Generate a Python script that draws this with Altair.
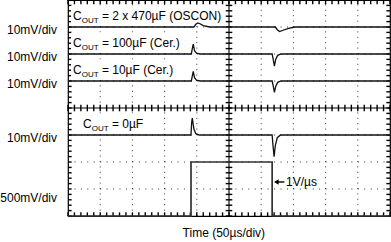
import altair as alt
import pandas as pd

# ---- trace data (x in horizontal divisions 0..10, y in vertical divisions 0..8) ----
oscon_x = [0, 3.91, 3.97, 4.03, 4.10, 4.20, 4.40, 6.44, 6.50, 6.57, 6.68, 6.85, 7.05, 10]
oscon_y = [7.0, 7.0, 7.10, 7.15, 7.12, 7.05, 7.0, 7.0, 6.90, 6.83, 6.88, 6.95, 7.0, 7.0]

cer100_x = [0, 3.83, 3.86, 3.89, 3.93, 3.99, 4.10, 6.34, 6.37, 6.41, 6.45, 6.51, 6.62, 10]
cer100_y = [6.0, 6.0, 6.20, 6.37, 6.12, 6.03, 6.0, 6.0, 5.82, 5.55, 5.80, 5.95, 6.0, 6.0]

cer10_x = [0, 3.83, 3.86, 3.89, 3.93, 3.99, 4.10, 6.34, 6.37, 6.41, 6.45, 6.51, 6.62, 10]
cer10_y = [5.0, 5.0, 5.18, 5.36, 5.12, 5.03, 5.0, 5.0, 4.84, 4.58, 4.80, 4.95, 5.0, 5.0]

zero_x = [0, 3.82, 3.84, 3.86, 3.91, 3.97, 4.08, 6.34, 6.36, 6.40, 6.44, 6.50, 6.60, 10]
zero_y = [3.0, 3.0, 3.45, 3.63, 3.22, 3.05, 3.0, 3.0, 2.70, 2.20, 2.62, 2.90, 3.0, 3.0]

step_x = [0, 3.82, 3.82, 6.34, 6.34, 10]
step_y = [0, 0, 2.0, 2.0, 0, 0]

# ---- annotation text ----
label_values = ["= 2 x 470µF (OSCON)", "= 100µF (Cer.)", "= 10µF (Cer.)", "= 0µF"]
label_x = [0.155, 0.155, 0.155, 0.466]
label_y = [7.25, 6.25, 5.25, 3.25]
box_x2 = [4.88, 3.57, 3.36, 2.40]

scale_labels = ["10mV/div", "10mV/div", "10mV/div", "10mV/div", "500mV/div"]
scale_label_y = [6.89, 5.89, 4.89, 2.89, 0.67]

time_title = "Time (50µs/div)"
slew_label = "1V/µs"

FONT = "Liberation Sans, Arial, Helvetica, sans-serif"

X = alt.Scale(domain=[0, 10], nice=False, zero=False)
Y = alt.Scale(domain=[0, 8], nice=False, zero=False)

def xe(field="x"):
    return alt.X(f"{field}:Q", scale=X, axis=None)

def ye(field="y"):
    return alt.Y(f"{field}:Q", scale=Y, axis=None)

# ---- traces ----
rows = []
for name, xs, ys in [("oscon", oscon_x, oscon_y), ("c100", cer100_x, cer100_y),
                     ("c10", cer10_x, cer10_y), ("c0", zero_x, zero_y)]:
    for i, (a, b) in enumerate(zip(xs, ys)):
        rows.append({"s": name, "x": a, "y": b, "i": i})
traces_df = pd.DataFrame(rows)
step_df = pd.DataFrame({"x": step_x, "y": step_y, "i": list(range(len(step_x)))})

# ---- grid structure ----
vgrid = pd.DataFrame({"x": [1, 2, 3, 4, 6, 7, 8, 9], "y": 0, "y2": 8})
hgrid = pd.DataFrame({"y": [1, 2, 3, 5, 6, 7], "x": 0, "x2": 10})
minor_x = [round(i * 0.2, 3) for i in range(51)]
minor_y = [round(i * 0.2, 3) for i in range(41)]

vg = alt.Chart(vgrid).mark_rule(color="#333", strokeWidth=1, strokeDash=[1, 4.4]).encode(
    x=xe(), y=ye(), y2="y2:Q")
hg = alt.Chart(hgrid).mark_rule(color="#333", strokeWidth=1, strokeDash=[1, 5.44]).encode(
    y=ye(), x=xe(), x2="x2:Q")

cv = alt.Chart(pd.DataFrame({"x": [5], "y": [0], "y2": [8]})).mark_rule(
    color="black", strokeWidth=1.1).encode(x=xe(), y=ye(), y2="y2:Q")
ch = alt.Chart(pd.DataFrame({"y": [4], "x": [0], "x2": [10]})).mark_rule(
    color="black", strokeWidth=1.1).encode(y=ye(), x=xe(), x2="x2:Q")

# tick segments (lengths in division units: 27 px per vertical div, 32.2 px per horizontal div)
TY = 3.3 / 27
TX = 3.3 / 32.2
seg = []
for xv in minor_x:
    seg.append({"x": xv, "x2": xv, "y": 4 - TY, "y2": 4 + TY})      # centre horizontal line
    seg.append({"x": xv, "x2": xv, "y": 8 - 1.3 * TY, "y2": 8})     # top edge
    seg.append({"x": xv, "x2": xv, "y": 0, "y2": 1.1 * TY})         # bottom edge
for yv in minor_y:
    seg.append({"x": 5 - TX, "x2": 5 + TX, "y": yv, "y2": yv})      # centre vertical line
    seg.append({"x": 0, "x2": 1.1 * TX, "y": yv, "y2": yv})         # left edge
    seg.append({"x": 10 - 1.1 * TX, "x2": 10, "y": yv, "y2": yv})   # right edge
seg_df = pd.DataFrame(seg)
ticks = alt.Chart(seg_df).mark_rule(color="black", strokeWidth=1.4).encode(
    x=xe(), x2="x2:Q", y=ye(), y2="y2:Q")

# ---- label boxes ----
lab_df = pd.DataFrame({"v": label_values, "x": label_x, "y": label_y, "x2": box_x2})
lab_df["bx"] = lab_df["x"] - 0.06
lab_df["by"] = lab_df["y"] - 0.17
lab_df["by2"] = lab_df["y"] + 0.55
boxes = alt.Chart(lab_df).mark_rect(color="white").encode(
    x=xe("bx"), x2="x2:Q", y=ye("by"), y2="by2:Q")

# ---- traces ----
tr = alt.Chart(traces_df).mark_line(color="#111", strokeWidth=1.3).encode(
    x=xe(), y=ye(), detail="s:N", order="i:Q")
st = alt.Chart(step_df).mark_line(color="#333", strokeWidth=1.7).encode(
    x=xe(), y=ye(), order="i:Q")

# ---- texts ----
tC = alt.Chart(lab_df).mark_text(text="C", align="left", baseline="alphabetic", fontSize=12,
                                  font=FONT, color="black").encode(x=xe(), y=ye())
tOUT = alt.Chart(lab_df).mark_text(text="OUT", align="left", baseline="alphabetic", fontSize=8,
                                    font=FONT, color="black", dx=8.7, dy=3).encode(x=xe(), y=ye())
tRest = alt.Chart(lab_df).mark_text(align="left", baseline="alphabetic", fontSize=12,
                                     font=FONT, color="black", dx=28.9).encode(
    x=xe(), y=ye(), text="v:N")

sl_df = pd.DataFrame({"t": scale_labels, "y": scale_label_y, "x": [0] * len(scale_labels)})
tScale = alt.Chart(sl_df).mark_text(align="right", baseline="middle", fontSize=12, font=FONT,
                                     color="black", dx=-11).encode(
    x=xe(), y=ye(), text="t:N")

tTime = alt.Chart(pd.DataFrame({"t": [time_title], "x": [4.84], "y": [0]})).mark_text(
    align="center", baseline="middle", fontSize=12, font=FONT, color="black", dy=17).encode(
    x=xe(), y=ye(), text="t:N")

arrow_shaft = alt.Chart(pd.DataFrame({"x": [6.46], "x2": [6.72], "y": [1.26]})).mark_rule(
    color="black", strokeWidth=1.4).encode(x=xe(), x2="x2:Q", y=ye())
arrow_head = alt.Chart(pd.DataFrame({"x": [6.47], "y": [1.26]})).mark_point(
    shape="triangle-left", filled=True, size=28, color="black", opacity=1).encode(x=xe(), y=ye())
tSlew = alt.Chart(pd.DataFrame({"t": [slew_label], "x": [6.77], "y": [1.26]})).mark_text(
    align="left", baseline="middle", fontSize=12, font=FONT, color="black").encode(
    x=xe(), y=ye(), text="t:N")

chart = alt.layer(
    vg, hg, cv, ch, ticks,
    boxes, tr, st, tC, tOUT, tRest, tScale, tTime, arrow_shaft, arrow_head, tSlew
).properties(
    width=322, height=216,
    padding={"left": 68, "top": 0, "right": 1, "bottom": 26},
    autosize=alt.AutoSizeParams(type="none"),
).configure_view(stroke="black", strokeWidth=1.2)

chart.save("out.html", embed_options={"renderer": "svg", "actions": False})
